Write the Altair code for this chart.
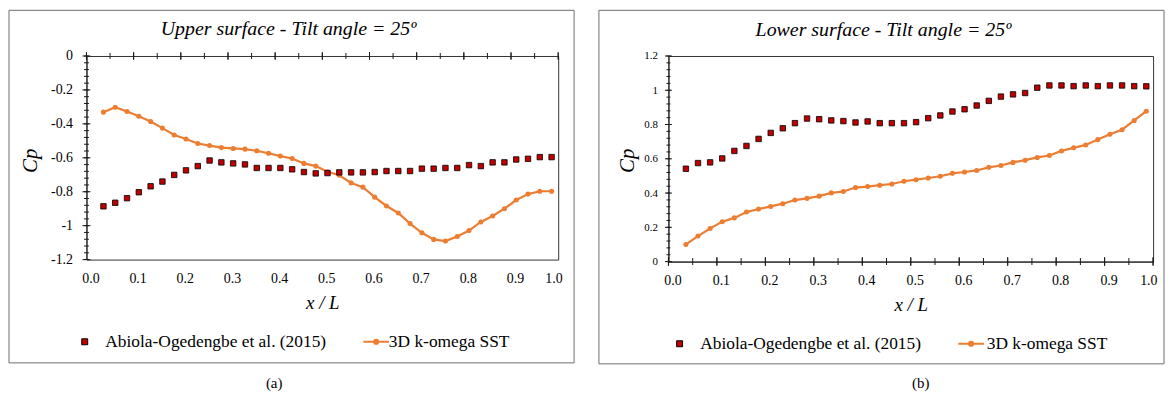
import altair as alt
import pandas as pd

# ---------------- data ----------------
x_pos = [0.036, 0.061, 0.086, 0.111, 0.136, 0.161, 0.186, 0.211, 0.236, 0.261,
         0.286, 0.311, 0.336, 0.361, 0.386, 0.411, 0.436, 0.461, 0.486, 0.511,
         0.536, 0.561, 0.586, 0.611, 0.636, 0.661, 0.686, 0.711, 0.736, 0.761,
         0.786, 0.811, 0.836, 0.861, 0.886, 0.911, 0.936, 0.961, 0.986]

upper_exp = [-0.886, -0.865, -0.838, -0.803, -0.768, -0.740, -0.701, -0.674, -0.649, -0.616,
             -0.627, -0.633, -0.639, -0.660, -0.660, -0.660, -0.668, -0.684, -0.692, -0.690,
             -0.686, -0.686, -0.686, -0.684, -0.678, -0.678, -0.678, -0.664, -0.664, -0.660,
             -0.660, -0.643, -0.649, -0.627, -0.627, -0.610, -0.606, -0.596, -0.596]
upper_cfd = [-0.331, -0.302, -0.327, -0.355, -0.386, -0.425, -0.466, -0.489, -0.516, -0.528,
             -0.540, -0.545, -0.549, -0.559, -0.573, -0.590, -0.604, -0.633, -0.649, -0.682,
             -0.703, -0.748, -0.773, -0.832, -0.884, -0.925, -0.988, -1.042, -1.081, -1.091,
             -1.064, -1.029, -0.978, -0.943, -0.900, -0.849, -0.814, -0.797, -0.797]
lower_exp = [0.542, 0.575, 0.579, 0.602, 0.646, 0.675, 0.716, 0.751, 0.778, 0.808,
             0.835, 0.831, 0.824, 0.820, 0.812, 0.818, 0.808, 0.808, 0.808, 0.814,
             0.837, 0.853, 0.876, 0.889, 0.911, 0.938, 0.963, 0.976, 0.984, 1.015,
             1.028, 1.028, 1.024, 1.028, 1.024, 1.028, 1.028, 1.024, 1.023]
lower_cfd = [0.100, 0.149, 0.193, 0.233, 0.255, 0.289, 0.307, 0.322, 0.338, 0.359,
             0.369, 0.382, 0.401, 0.409, 0.432, 0.438, 0.446, 0.453, 0.469, 0.478,
             0.488, 0.498, 0.515, 0.523, 0.532, 0.550, 0.561, 0.579, 0.592, 0.608,
             0.619, 0.646, 0.664, 0.681, 0.712, 0.743, 0.770, 0.824, 0.878]

exp_name = "Abiola-Ogedengbe et al. (2015)"
cfd_name = "3D k-omega SST"
titles = ["Upper surface - Tilt angle = 25º", "Lower surface - Tilt angle = 25º"]
tags = ["(a)", "(b)"]
x_title = "x / L"
y_title = "Cp"
x_minor = [round(0.05 * i, 2) for i in range(21)]
x_major = [round(0.1 * i, 1) for i in range(11)]
y_minor_upper = [round(-1.2 + 0.04 * i, 2) for i in range(31)]
y_major_upper = [round(-1.2 + 0.2 * i, 1) for i in range(7)]
y_minor_lower = [round(0.04 * i, 2) for i in range(31)]
y_major_lower = [round(0.2 * i, 1) for i in range(7)]

# ---------------- styles ----------------
SERIF = "Liberation Serif"
ORANGE = "#ed7d31"
RED = "#c00000"
INK = "#1a1a1a"
FRAME = "#6e6e6e"
Y_LABEL = "toString(round(datum.value*10)/10)"
LEG_PATH = "M-4.3,0H4.3M-0.7,0A0.7,0.7,0,1,1,0.7,0A0.7,0.7,0,1,1,-0.7,0Z"
LAST_RIGHT = {"condition": {"test": "datum.value > 0.99", "value": "right"}, "value": "center"}
XS = alt.Scale(domain=[0, 1], nice=False, zero=False)

one = pd.DataFrame({"k": [0]})


def y_label_axis(values, lab_size, pad, tx, ty):
    return alt.Axis(orient="left", values=values, labelExpr=Y_LABEL, grid=False,
                    ticks=False, tickSize=0, domain=True, domainColor=INK, domainWidth=1,
                    labelFont=SERIF, labelFontSize=lab_size, labelColor="black",
                    labelPadding=pad, labelOverlap=False, labelFlush=False,
                    title=y_title, titleX=tx, titleY=ty, titleAngle=270,
                    titleAlign="center", titleBaseline="middle",
                    titleFont=SERIF, titleFontStyle="italic", titleFontWeight="normal",
                    titleFontSize=21, titleColor="black")


def x_label_axis(lab_size, pad, domain, w):
    return alt.Axis(orient="bottom", values=x_major, format=".1f",
                    ticks=False, tickSize=0, domain=domain, domainColor=INK, domainWidth=1,
                    grid=False, labelFont=SERIF, labelFontSize=lab_size, labelColor="black",
                    labelPadding=pad, labelOffset=4, labelAlign=LAST_RIGHT,
                    labelFlush=False, labelOverlap=False,
                    title=x_title, titleX=w / 2, titleY=49, titleAlign="center",
                    titleBaseline="alphabetic", titleFont=SERIF,
                    titleFontStyle="italic", titleFontWeight="normal",
                    titleFontSize=19, titleColor="black")


def tick_marks(ys, x_sizes, y_sizes, y_major, y_minor):
    """Cross ticks drawn through the chart's own scales, straddling the x=0 / y=0 axis lines."""
    out = []
    for vals, size in ((x_minor, x_sizes[1]), (x_major, x_sizes[0])):
        out.append(alt.Chart(pd.DataFrame({"v": vals})).mark_tick(
            orient="vertical", size=size, thickness=1, color=INK, opacity=1).encode(
            x=alt.X("v:Q", scale=XS, axis=None),
            y=alt.Y(datum=0, scale=ys, axis=None)))
    for vals, size in ((y_minor, y_sizes[1]), (y_major, y_sizes[0])):
        out.append(alt.Chart(pd.DataFrame({"v": vals})).mark_tick(
            orient="horizontal", size=size, thickness=1, color=INK, opacity=1).encode(
            y=alt.Y("v:Q", scale=ys, axis=None),
            x=alt.X(datum=0, scale=XS, axis=None)))
    return out


def decor(frame, title_pos, title, tag_pos, tag):
    fr = alt.Chart(one).mark_rect(fill="transparent", stroke=FRAME, strokeWidth=1).encode(
        x=alt.value(frame[0]), x2=alt.value(frame[1]),
        y=alt.value(frame[2]), y2=alt.value(frame[3]))
    tt = alt.Chart(one).mark_text(font=SERIF, fontStyle="italic", fontSize=20,
                                  align="center", baseline="alphabetic", color="black").encode(
        x=alt.value(title_pos[0]), y=alt.value(title_pos[1]), text=alt.value(title))
    tg = alt.Chart(one).mark_text(font=SERIF, fontSize=15, align="center",
                                  baseline="middle", color="black").encode(
        x=alt.value(tag_pos[0]), y=alt.value(tag_pos[1]), text=alt.value(tag))
    return fr, tt, tg


def legends(exp_xy, cfd_xy, cfd_off):
    exp_leg = alt.Legend(orient="none", legendX=exp_xy[0], legendY=exp_xy[1], title=None,
                         symbolType="square", symbolSize=36, symbolStrokeColor="black",
                         symbolStrokeWidth=1, labelFont=SERIF, labelFontSize=17.5,
                         labelColor="black", labelOffset=12, labelLimit=400, padding=0)
    cfd_leg = alt.Legend(orient="none", legendX=cfd_xy[0], legendY=cfd_xy[1], title=None,
                         symbolType=LEG_PATH, symbolSize=36, symbolStrokeColor=ORANGE,
                         symbolStrokeWidth=2, labelFont=SERIF, labelFontSize=17.5,
                         labelColor="black", labelOffset=cfd_off, labelLimit=400, padding=0)
    return exp_leg, cfd_leg


def series_layers(df, ys, x_lab, y_lab, exp_leg, cfd_leg):
    base = alt.Chart(df)
    line = base.mark_line(color=ORANGE, strokeWidth=2.2).encode(
        x=alt.X("x:Q", scale=XS, axis=x_lab),
        y=alt.Y("cfd:Q", scale=ys, axis=y_lab))
    dots = base.mark_circle(size=26, opacity=1).encode(
        x=alt.X("x:Q", scale=XS, axis=None),
        y=alt.Y("cfd:Q", scale=ys, axis=None),
        fill=alt.Fill("cfd_s:N", scale=alt.Scale(domain=[cfd_name], range=[ORANGE]),
                      legend=cfd_leg))
    squares = base.mark_square(size=30, opacity=1, stroke="black", strokeWidth=0.8).encode(
        x=alt.X("x:Q", scale=XS, axis=None),
        y=alt.Y("exp:Q", scale=ys, axis=None),
        color=alt.Color("exp_s:N", scale=alt.Scale(domain=[exp_name], range=[RED]),
                        legend=exp_leg))
    return line, dots, squares


# ---------------- left panel: upper surface ----------------
W1, H1 = 475, 205
df1 = pd.DataFrame({"x": x_pos, "exp": upper_exp, "cfd": upper_cfd,
                    "exp_s": exp_name, "cfd_s": cfd_name})
ys1 = alt.Scale(domain=[-1.2, 0], nice=False, zero=False)
l1, d1, s1 = series_layers(df1, ys1, x_label_axis(14, 12, False, W1),
                           y_label_axis(y_major_upper, 14, 14, -56, 105),
                           *legends((-10.5, 279), (283, 279), 4))
t1 = tick_marks(ys1, (8, 6), (8, 5), y_major_upper, y_minor_upper)
fr1, tt1, tg1 = decor((-78, 491, -46, 309), (203.5, -21), titles[0], (189, 329), tags[0])
# axes resolved independently: only the line layer owns axes, the others have none
left = alt.layer(l1, fr1, *t1, d1, s1, tt1, tg1).resolve_axis(
    x="independent", y="independent").properties(width=W1, height=H1)

# ---------------- right panel: lower surface ----------------
W2, H2 = 488, 207
df2 = pd.DataFrame({"x": x_pos, "exp": lower_exp, "cfd": lower_cfd,
                    "exp_s": exp_name, "cfd_s": cfd_name})
ys2 = alt.Scale(domain=[0, 1.2], nice=False, zero=False)
l2, d2, s2 = series_layers(df2, ys2, x_label_axis(14, 12, True, W2),
                           y_label_axis(y_major_lower, 11, 11, -41, 105),
                           *legends((2.5, 281), (296, 281), 7))
t2 = tick_marks(ys2, (9, 7), (7, 4), y_major_lower, y_minor_lower)
fr2, tt2, tg2 = decor((-70, 499, -46, 310), (216.5, -20), titles[1], (254, 329), tags[1])
right = alt.layer(l2, fr2, *t2, d2, s2, tt2, tg2).resolve_axis(
    x="independent", y="independent").properties(width=W2, height=H2)

chart = alt.hconcat(left, right, spacing=23).resolve_scale(
    color="independent", fill="independent").properties(padding=0).configure_view(
    stroke="#333333", strokeWidth=1)

chart.save("out.html", embed_options={"renderer": "svg", "actions": False})
